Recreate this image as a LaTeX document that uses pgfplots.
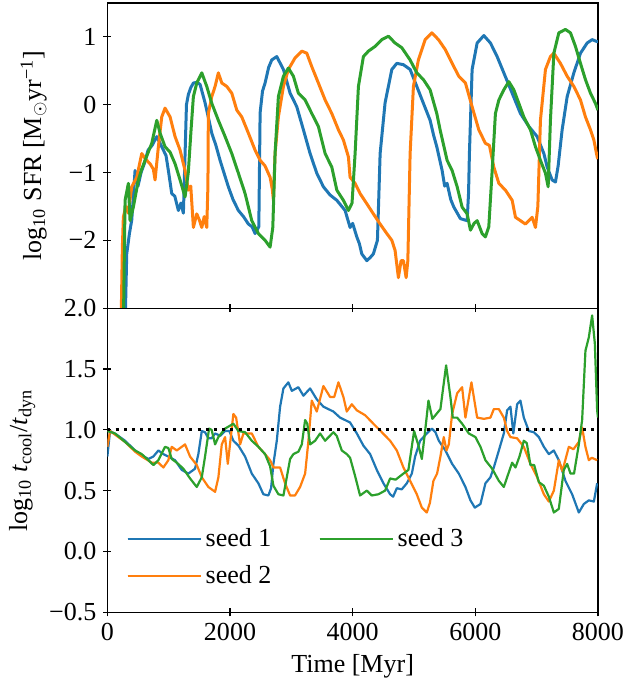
\documentclass[border=0pt]{standalone}
\usepackage{fontspec}
\setmainfont{Liberation Serif}
\usepackage{pgfplots}
\pgfplotsset{compat=1.18}
\definecolor{c0}{HTML}{1F77B4}
\definecolor{c1}{HTML}{FF7F0E}
\definecolor{c2}{HTML}{2CA02C}
\newcommand{\fs}{\fontsize{13}{15.6}\selectfont}
\newcommand{\sgnlabel}[1]{\pgfmathparse{\tick<0}\ifdim\pgfmathresult pt>0.5pt −\fi\pgfmathparse{abs(\tick)}\pgfmathprintnumber[fixed,fixed zerofill,precision=#1,1000 sep={},assume math mode=true]{\pgfmathresult}}
\pgfplotsset{
  myax/.style={
    scale only axis, width=245.2pt,
    xmin=0, xmax=8000,
    axis line style={line width=0.6pt, black},
    tick align=center, xtick pos=bottom, ytick pos=left,
    major tick length=4pt,
    every tick/.style={line width=0.55pt, black},
    every tick label/.append style={font=\fs},
    xticklabel style={font=\fs},
    yticklabel style={font=\fs},
    label style={font=\fs},
    /pgf/number format/assume math mode=true,
    xtick={0,2000,4000,6000,8000},
    scaled x ticks=false, scaled y ticks=false,
    clip=true,
  }
}
\begin{document}
\begin{tikzpicture}[font=\fs]
\begin{axis}[myax, name=ax1, height=152.5pt,
  ymin=-3, ymax=1.5,
  ytick={-2,-1,0,1}, yticklabel={\fs\rmfamily\sgnlabel{0}},
  extra y ticks={-3}, extra y tick labels={},
  xticklabels={},
  ylabel={log\textsubscript{10} SFR [M$_\odot$yr\textsuperscript{−1}]},
  every axis plot/.append style={line width=1.5pt, line join=round},
]
\addplot[c0] coordinates {(289,-3.3) (316,-2.2) (360,-1.9) (398,-1.7) (452,-0.97) (500,-1.2) (550,-1.0) (610,-0.85) (664,-0.67) (730,-0.6) (806,-0.47) (850,-0.55) (887,-0.62) (957,-0.75) (1000,-1.0) (1050,-1.31) (1100,-1.35) (1158,-1.56) (1200,-1.45) (1240,-1.6) (1265,-0.8) (1290,0.0) (1321,0.15) (1360,0.25) (1403,0.32) (1460,0.33) (1512,0.3) (1593,0.03) (1650,-0.2) (1703,-0.42) (1770,-0.6) (1838,-0.82) (1900,-1.0) (1973,-1.21) (2050,-1.4) (2137,-1.56) (2220,-1.65) (2300,-1.76) (2360,-1.8) (2409,-1.90) (2440,-1.85) (2470,-1.8) (2491,-0.12) (2530,0.2) (2572,0.32) (2630,0.55) (2681,0.66) (2762,0.71) (2871,0.52) (2980,0.17) (3089,-0.03) (3197,-0.37) (3306,-0.72) (3415,-1.01) (3523,-1.21) (3630,-1.33) (3742,-1.41) (3877,-1.56) (3958,-1.81) (4000,-1.75) (4068,-1.95) (4110,-2.05) (4149,-2.2) (4231,-2.30) (4290,-2.25) (4338,-2.2) (4404,-2.0) (4425,-1.4) (4448,-0.72) (4529,0.03) (4639,0.52) (4720,0.61) (4828,0.59) (4937,0.52) (5046,0.27) (5154,0.02) (5263,-0.23) (5320,-0.45) (5372,-0.62) (5459,-0.97) (5500,-1.2) (5540,-1.16) (5600,-1.4) (5650,-1.51) (5757,-1.68) (5867,-1.71) (5890,-1.3) (5904,-0.72) (5948,0.52) (6030,0.91) (6139,1.02) (6247,0.91) (6356,0.71) (6465,0.47) (6601,0.17) (6736,-0.13) (6873,-0.32) (7008,-0.47) (7118,-0.72) (7172,-0.92) (7253,-1.11) (7307,-1.14) (7351,-0.9) (7416,-0.37) (7498,0.12) (7607,0.47) (7715,0.76) (7824,0.91) (7905,0.96) (7987,0.93) (8000,0.93)};
\addplot[c1] coordinates {(223,-3.3) (245,-2.1) (261,-1.66) (300,-1.5) (340,-1.6) (398,-1.21) (480,-1.07) (561,-0.72) (620,-0.8) (696,-0.87) (750,-0.95) (778,-1.11) (832,-0.62) (887,-0.18) (941,-0.05) (1023,-0.18) (1104,-0.47) (1186,-0.67) (1267,-0.97) (1321,-1.26) (1360,-1.2) (1403,-1.81) (1458,-1.61) (1500,-1.7) (1540,-1.81) (1580,-1.65) (1621,-1.81) (1640,-1.2) (1647,-0.13) (1703,0.12) (1757,0.27) (1810,0.47) (1866,0.32) (1947,0.27) (2029,0.17) (2111,-0.08) (2192,-0.18) (2300,-0.42) (2409,-0.67) (2491,-0.82) (2570,-0.9) (2654,-1.07) (2690,-1.25) (2708,-1.41) (2735,-0.72) (2789,-0.18) (2871,0.27) (2952,0.52) (3061,0.69) (3171,0.79) (3252,0.76) (3334,0.56) (3441,0.32) (3551,0.07) (3660,-0.13) (3768,-0.37) (3849,-0.52) (3931,-0.77) (3958,-1.07) (4040,-1.16) (4121,-1.31) (4231,-1.46) (4338,-1.61) (4448,-1.76) (4557,-1.90) (4639,-2.0) (4692,-2.15) (4746,-2.55) (4790,-2.3) (4828,-2.3) (4872,-2.55) (4900,-2.3) (4937,-0.72) (4991,0.27) (5072,0.66) (5182,0.96) (5291,1.06) (5399,0.96) (5513,0.81) (5622,0.61) (5731,0.42) (5839,0.32) (5948,-0.03) (6057,-0.37) (6165,-0.57) (6230,-0.6) (6302,-0.92) (6384,-1.16) (6491,-1.26) (6601,-1.41) (6655,-1.66) (6736,-1.71) (6817,-1.76) (6927,-1.66) (6981,-1.81) (7020,-1.5) (7062,-0.23) (7144,0.52) (7225,0.71) (7281,0.76) (7388,0.61) (7498,0.42) (7607,0.27) (7715,0.07) (7796,-0.18) (7878,-0.37) (7933,-0.52) (7987,-0.77) (8000,-0.8)};
\addplot[c2] coordinates {(261,-3.3) (289,-1.41) (343,-1.16) (370,-1.71) (424,-1.51) (506,-1.11) (560,-0.95) (615,-0.82) (724,-0.57) (806,-0.23) (860,-0.42) (941,-0.62) (1023,-0.7) (1104,-0.87) (1186,-1.11) (1267,-1.36) (1320,-1.0) (1365,-0.37) (1403,0.12) (1458,0.32) (1540,0.47) (1621,0.27) (1703,0.02) (1810,-0.23) (1920,-0.47) (2029,-0.72) (2137,-1.01) (2246,-1.31) (2355,-1.71) (2463,-1.90) (2572,-2.0) (2654,-2.10) (2698,-1.81) (2735,-0.72) (2789,0.12) (2871,0.42) (2952,0.54) (3034,0.42) (3115,0.17) (3225,0.07) (3334,-0.13) (3441,-0.32) (3551,-0.72) (3660,-0.92) (3742,-1.26) (3849,-1.41) (3931,-1.56) (3990,-1.45) (4040,-0.72) (4094,0.27) (4175,0.71) (4257,0.79) (4366,0.86) (4475,0.96) (4583,1.01) (4692,0.91) (4802,0.84) (4937,0.66) (5046,0.47) (5154,0.37) (5263,0.22) (5372,-0.13) (5426,-0.37) (5540,-0.82) (5622,-0.97) (5704,-1.21) (5785,-1.51) (5867,-1.61) (5921,-1.85) (5980,-1.75) (6030,-1.71) (6111,-1.90) (6165,-1.95) (6220,-1.8) (6275,-0.97) (6328,-0.13) (6384,0.07) (6465,0.22) (6547,0.34) (6628,0.22) (6710,0.02) (6791,-0.18) (6899,-0.37) (6981,-0.62) (7062,-0.82) (7144,-1.01) (7188,-1.21) (7225,-0.23) (7281,0.76) (7362,1.06) (7470,1.11) (7552,1.06) (7633,0.86) (7715,0.61) (7796,0.37) (7878,0.17) (7959,0.02) (8000,-0.08)};
\end{axis}
\begin{axis}[myax, name=ax2, height=152pt,
  at={(ax1.south west)}, anchor=north west,
  ymin=-0.5, ymax=2.0,
  ytick={-0.5,0,0.5,1,1.5,2}, yticklabel={\fs\rmfamily\sgnlabel{1}},
  xticklabel={\fs\rmfamily\pgfmathprintnumber[fixed,precision=0,1000 sep={},assume math mode=true]{\tick}},
  xlabel={Time [Myr]},
  ylabel={log\textsubscript{10} \textit{t}\textsubscript{cool}/\textit{t}\textsubscript{dyn}},
  every axis plot/.append style={line width=1.1pt, line join=round},
  legend style={draw=none, fill=none, font=\fs, at={(rel axis cs:0.026,0.304)}, anchor=north west,
    row sep=4pt,
    /tikz/every even column/.append style={column sep=21.5pt}},
  legend columns=2,
  legend cell align=left,
  legend image code/.code={\draw[#1] (0pt,0pt) -- (29pt,0pt); \path (0pt,0pt) -- (36.5pt,0pt);},
]
\addplot[c0, forget plot] coordinates {(0,0.78) (44,0.99) (150,0.96) (289,0.91) (452,0.83) (561,0.79) (669,0.76) (750,0.78) (832,0.83) (913,0.80) (995,0.78) (1104,0.75) (1213,0.67) (1321,0.64) (1430,0.68) (1484,0.80) (1540,0.99) (1593,0.98) (1647,0.93) (1700,0.93) (1757,0.97) (1840,0.95) (1920,0.99) (1990,0.99) (2055,0.91) (2137,0.87) (2246,0.78) (2355,0.64) (2463,0.56) (2544,0.47) (2626,0.46) (2670,0.52) (2708,0.72) (2763,0.91) (2817,1.19) (2871,1.34) (2952,1.39) (3008,1.32) (3115,1.35) (3197,1.28) (3306,1.34) (3415,1.25) (3523,1.19) (3686,1.15) (3795,1.10) (3958,1.06) (4068,0.97) (4175,0.87) (4285,0.80) (4394,0.67) (4502,0.56) (4611,0.47) (4660,0.45) (4720,0.52) (4800,0.51) (4883,0.56) (4965,0.64) (5019,0.78) (5100,0.91) (5209,0.97) (5291,1.01) (5350,0.98) (5405,0.91) (5513,0.83) (5622,0.72) (5731,0.64) (5839,0.53) (5921,0.42) (5992,0.36) (6084,0.39) (6165,0.56) (6247,0.61) (6302,0.69) (6384,0.83) (6465,0.97) (6519,1.16) (6573,1.19) (6620,0.97) (6682,1.21) (6736,1.24) (6791,1.10) (6873,0.99) (6955,0.98) (7036,0.94) (7118,0.86) (7199,0.80) (7280,0.83) (7362,0.75) (7470,0.58) (7579,0.47) (7688,0.32) (7770,0.39) (7851,0.42) (7933,0.41) (7987,0.56)};
\addplot[c1, forget plot] coordinates {(0,0.86) (44,0.99) (289,0.90) (452,0.82) (561,0.78) (724,0.73) (832,0.73) (913,0.69) (995,0.75) (1050,0.86) (1132,0.83) (1267,0.88) (1349,0.78) (1458,0.71) (1540,0.61) (1647,0.53) (1757,0.49) (1811,0.61) (1866,0.88) (1920,0.94) (1964,0.72) (2000,0.88) (2055,1.13) (2100,1.10) (2165,0.88) (2219,0.97) (2355,0.97) (2463,0.86) (2572,0.80) (2654,0.75) (2708,0.69) (2817,0.69) (2898,0.56) (2980,0.46) (3060,0.46) (3143,0.53) (3225,0.64) (3279,0.91) (3333,1.24) (3415,1.15) (3523,1.36) (3632,1.27) (3700,1.27) (3768,1.39) (3849,1.27) (3904,1.15) (3986,1.21) (4068,1.16) (4203,1.12) (4338,1.05) (4475,0.98) (4611,0.91) (4720,0.83) (4828,0.69) (4937,0.58) (5046,0.47) (5128,0.36) (5209,0.32) (5260,0.40) (5317,0.58) (5377,0.64) (5431,0.78) (5486,0.94) (5530,0.83) (5568,0.88) (5622,1.13) (5704,1.30) (5785,1.35) (5839,1.10) (5937,1.39) (6030,1.10) (6140,1.09) (6247,1.10) (6302,1.17) (6384,1.17) (6465,1.10) (6519,0.99) (6573,0.94) (6682,0.93) (6791,0.86) (6899,0.72) (7008,0.61) (7118,0.47) (7199,0.41) (7281,0.50) (7362,0.75) (7420,0.66) (7525,0.86) (7600,0.84) (7688,0.90) (7742,1.02) (7796,0.86) (7851,0.75) (7900,0.77) (7987,0.75)};
\addplot[c2, forget plot] coordinates {(0,0.99) (125,0.97) (289,0.90) (452,0.83) (561,0.80) (669,0.75) (751,0.71) (832,0.75) (941,0.86) (995,0.85) (1050,0.76) (1132,0.73) (1240,0.68) (1349,0.60) (1458,0.53) (1540,0.61) (1593,0.78) (1659,1.01) (1700,1.00) (1757,0.88) (1810,0.94) (1920,1.01) (2055,1.05) (2137,0.99) (2246,0.98) (2355,0.91) (2463,0.86) (2572,0.80) (2654,0.70) (2708,0.54) (2789,0.47) (2871,0.46) (2926,0.61) (2980,0.76) (3034,0.80) (3115,0.82) (3171,0.88) (3225,1.08) (3260,1.05) (3306,0.88) (3388,0.91) (3469,0.97) (3551,0.91) (3686,0.98) (3740,0.95) (3823,0.83) (3904,0.80) (3958,0.77) (4040,0.62) (4121,0.46) (4231,0.50) (4312,0.46) (4420,0.47) (4529,0.50) (4611,0.60) (4700,0.59) (4828,0.64) (4909,0.67) (5002,0.99) (5073,0.87) (5128,0.76) (5182,0.99) (5236,1.24) (5300,1.09) (5350,1.12) (5431,1.17) (5524,1.53) (5594,1.27) (5633,1.10) (5704,1.10) (5785,1.05) (5894,0.97) (6002,0.94) (6084,0.86) (6165,0.75) (6275,0.68) (6384,0.58) (6465,0.53) (6519,0.61) (6601,0.73) (6655,0.69) (6720,0.78) (6791,0.91) (6840,0.89) (6899,0.71) (6960,0.71) (7036,0.57) (7118,0.54) (7199,0.45) (7281,0.32) (7362,0.35) (7443,0.67) (7498,0.72) (7552,0.64) (7610,0.64) (7688,0.88) (7742,1.08) (7796,1.65) (7851,1.76) (7905,1.94) (7949,1.71) (7987,1.16) (8000,1.1)};
\addplot[black, line width=1.4pt, dash pattern=on 1.5pt off 2.6pt, forget plot] coordinates {(0,1) (8000,1)};
\addlegendimage{c0, line width=1.1pt}
\addlegendentry{seed 1}
\addlegendimage{c2, line width=1.1pt}
\addlegendentry{seed 3}
\addlegendimage{c1, line width=1.1pt}
\addlegendentry{seed 2}
\end{axis}
\pgfresetboundingbox
\path[use as bounding box] ([xshift=-53.65pt,yshift=-37.35pt]ax2.south west) rectangle ([xshift=14.65pt,yshift=1.5pt]ax1.north east);
\end{tikzpicture}
\end{document}
